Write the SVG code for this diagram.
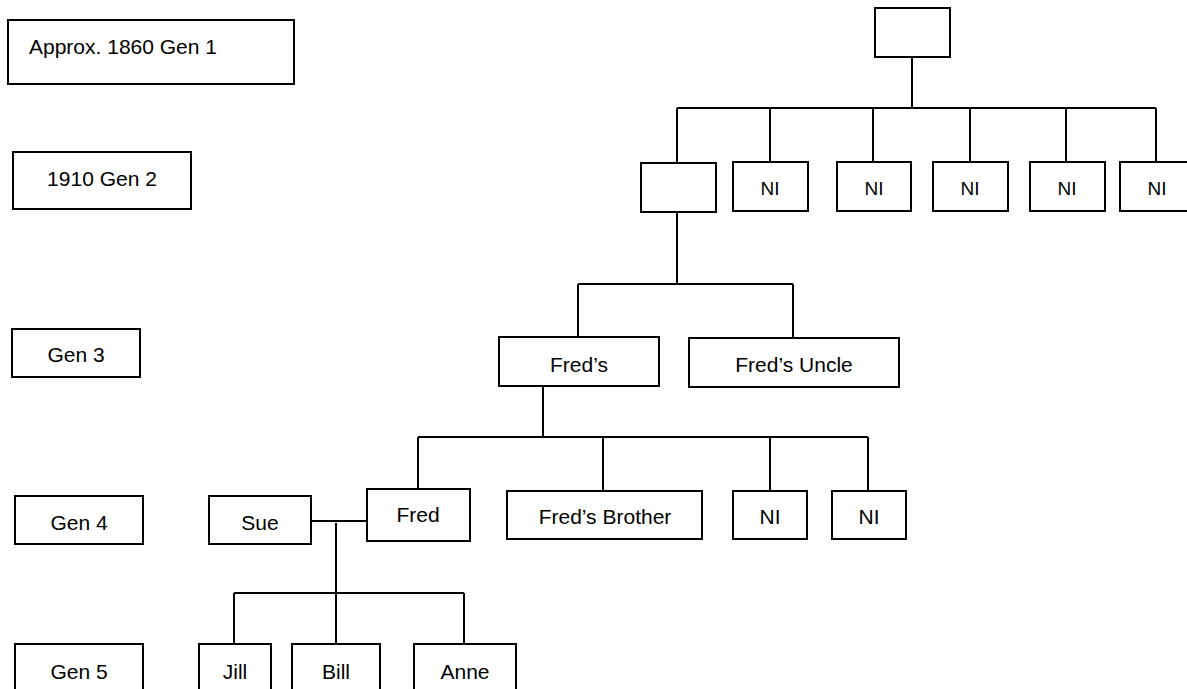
<svg xmlns="http://www.w3.org/2000/svg" width="1187" height="689" viewBox="0 0 1187 689">
<style>
.b{fill:#fff;stroke:#000;stroke-width:2}
.t{font-family:"Liberation Sans",Arial,sans-serif;font-size:21px;fill:#000;text-anchor:middle}
.n{font-family:"Liberation Sans",Arial,sans-serif;font-size:19px;fill:#000;text-anchor:middle}
.c{stroke:#000;stroke-width:2;fill:none}
</style>
<rect width="1187" height="689" fill="#fff"/>
<g id="connectors" class="c">
<path d="M912 57V108M677 108H1156M677 108V163M770 108V162M873 108V162M970 108V162M1066 108V162M1156 108V162"/>
<path d="M677 212V284M578 284H793M578 284V337M793 284V338"/>
<path d="M543 386V437M418 437H868M418 437V489M603 437V491M770 437V491M868 437V491"/>
<path d="M311 521H367M336 523V644M234 593H464M234 593V644M464 593V644"/>
</g>
<g id="gen1-label"><rect class="b" x="8" y="20" width="286" height="64"/><text class="t" x="29" y="54" style="text-anchor:start">Approx. 1860 Gen 1</text></g>
<g id="gen2-label"><rect class="b" x="13" y="152" width="178" height="57"/><text class="t" x="102" y="186">1910 Gen 2</text></g>
<g id="gen3-label"><rect class="b" x="12" y="329" width="128" height="48"/><text class="t" x="76" y="362">Gen 3</text></g>
<g id="gen4-label"><rect class="b" x="15" y="496" width="128" height="48"/><text class="t" x="79" y="530">Gen 4</text></g>
<g id="gen5-label"><rect class="b" x="15" y="644" width="128" height="60"/><text class="t" x="79" y="679">Gen 5</text></g>
<g id="root"><rect class="b" x="875" y="8" width="75" height="49"/></g>
<g id="gen2-parent"><rect class="b" x="641" y="163" width="75" height="49"/></g>
<g id="gen2-ni1"><rect class="b" x="733" y="162" width="75" height="49"/><text class="n" x="770" y="195">NI</text></g>
<g id="gen2-ni2"><rect class="b" x="837" y="162" width="74" height="49"/><text class="n" x="874" y="195">NI</text></g>
<g id="gen2-ni3"><rect class="b" x="933" y="162" width="75" height="49"/><text class="n" x="970" y="195">NI</text></g>
<g id="gen2-ni4"><rect class="b" x="1030" y="162" width="75" height="49"/><text class="n" x="1067" y="195">NI</text></g>
<g id="gen2-ni5"><rect class="b" x="1120" y="162" width="75" height="49"/><text class="n" x="1157" y="195">NI</text></g>
<g id="freds"><rect class="b" x="499" y="337" width="160" height="49"/><text class="t" x="579" y="372">Fred’s</text></g>
<g id="freds-uncle"><rect class="b" x="689" y="338" width="210" height="49"/><text class="t" x="794" y="372">Fred’s Uncle</text></g>
<g id="sue"><rect class="b" x="209" y="496" width="102" height="48"/><text class="t" x="260" y="530">Sue</text></g>
<g id="fred"><rect class="b" x="367" y="489" width="103" height="52"/><text class="t" x="418" y="522">Fred</text></g>
<g id="freds-brother"><rect class="b" x="507" y="491" width="195" height="48"/><text class="t" x="605" y="524">Fred’s Brother</text></g>
<g id="gen4-ni1"><rect class="b" x="733" y="491" width="74" height="48"/><text class="t" x="770" y="524">NI</text></g>
<g id="gen4-ni2"><rect class="b" x="832" y="491" width="74" height="48"/><text class="t" x="869" y="524">NI</text></g>
<g id="jill"><rect class="b" x="199" y="644" width="72" height="60"/><text class="t" x="235" y="679">Jill</text></g>
<g id="bill"><rect class="b" x="292" y="644" width="88" height="60"/><text class="t" x="336" y="679">Bill</text></g>
<g id="anne"><rect class="b" x="414" y="644" width="102" height="60"/><text class="t" x="465" y="679">Anne</text></g>
</svg>
